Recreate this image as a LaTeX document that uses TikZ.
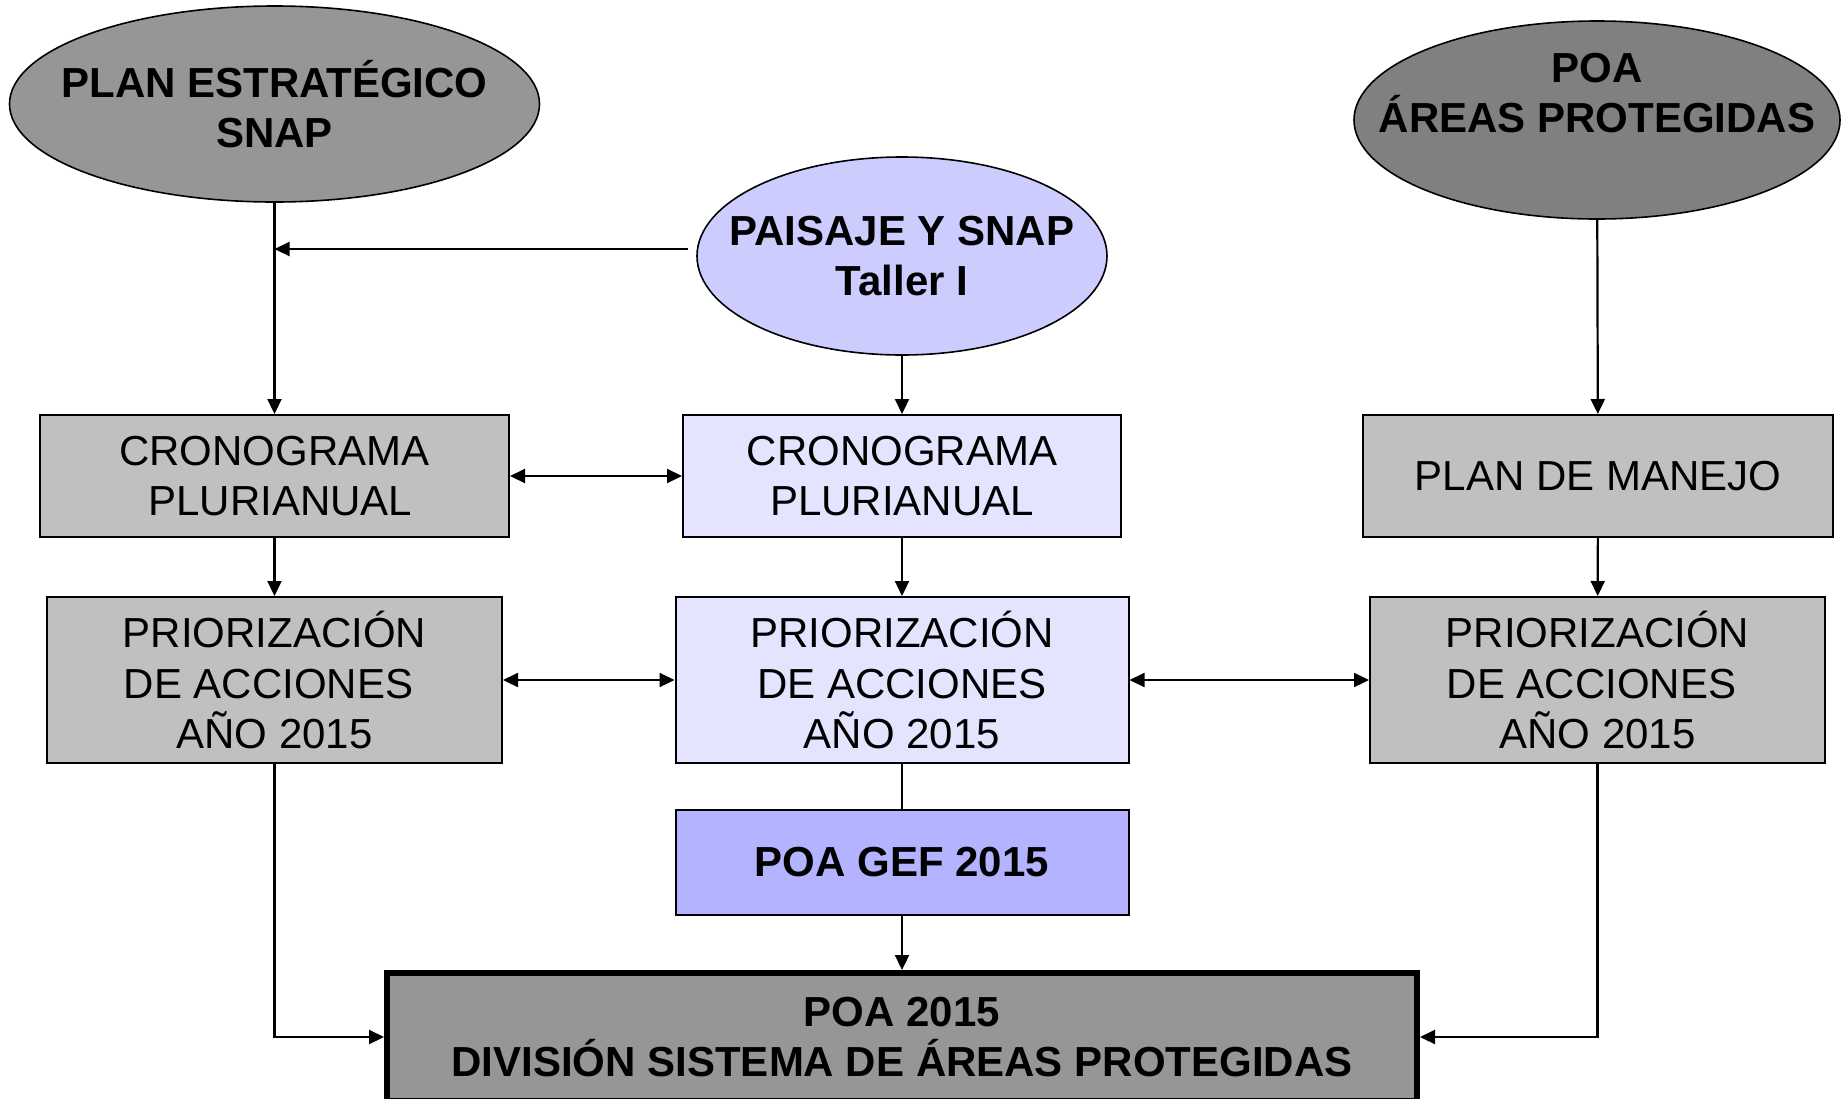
\documentclass[tikz,border=0pt]{standalone}
\usepackage{fontspec}
\setmainfont{Liberation Sans}
\usetikzlibrary{arrows.meta,shapes.geometric}
\definecolor{grisA}{HTML}{969696}
\definecolor{grisB}{HTML}{808080}
\definecolor{grisC}{HTML}{C0C0C0}
\definecolor{lilaA}{HTML}{CCCCFF}
\definecolor{lilaB}{HTML}{E4E4FF}
\definecolor{lilaC}{HTML}{B3B3FF}
\begin{document}
\begin{tikzpicture}[x=0.5pt, y=-0.5pt,
    texto/.style={align=center, inner sep=0pt, font=\fontsize{21}{25.3}\selectfont},
    negrita/.style={texto, font=\fontsize{21}{25.3}\selectfont\bfseries},
    elipse/.style={ellipse, draw, line width=0.8pt, inner sep=0pt},
    caja/.style={texto, rectangle, draw, line width=1pt},
    flecha/.style={-{Triangle[length=7.5pt,width=7pt]}, line width=1.1pt},
    doble/.style={{Triangle[length=7.5pt,width=7pt]}-{Triangle[length=7.5pt,width=7pt]}, line width=1.1pt}]
  \useasboundingbox (0,0) rectangle (1847,1098);
  % ovalos de arriba
  \node [elipse, fill=grisA, minimum width=265pt, minimum height=98pt] (plan) at (274.5,104) {};
  \node [negrita] (plantxt) at (plan) {PLAN ESTRATÉGICO\\SNAP};
  \node [elipse, fill=lilaA, minimum width=205pt, minimum height=99pt] (paisaje) at (902,256) {};
  \node [negrita] (paisajetxt) at (paisaje) {PAISAJE Y SNAP\\Taller I};
  \node [elipse, fill=grisB, minimum width=243pt, minimum height=99pt] (poaap) at (1597,120) {};
  \node [negrita] (poaaptxt) at (1597,93) {POA\\ÁREAS PROTEGIDAS};
  % primera fila
  \node [caja, fill=grisC, minimum width=234.5pt, minimum height=61pt] (crono1) at (274.5,476) {CRONOGRAMA\\~PLURIANUAL};
  \node [caja, fill=lilaB, minimum width=219pt, minimum height=61pt] (crono2) at (902,476) {CRONOGRAMA~\\PLURIANUAL};
  \node [caja, fill=grisC, minimum width=235pt, minimum height=61pt] (manejo) at (1598,476) {PLAN DE MANEJO};
  % segunda fila
  \node [caja, fill=grisC, minimum width=227.5pt, minimum height=83pt] (prior1) at (274.5,680) {PRIORIZACIÓN~\\DE ACCIONES~~\\AÑO 2015};
  \node [caja, fill=lilaB, minimum width=226.5pt, minimum height=83pt] (prior2) at (902,680) {PRIORIZACIÓN\\DE ACCIONES~\\AÑO 2015};
  \node [caja, fill=grisC, minimum width=227.5pt, minimum height=83pt] (prior3) at (1597.5,680) {PRIORIZACIÓN~\\DE ACCIONES~~\\AÑO 2015};
  \node [caja, negrita, draw, line width=1pt, fill=lilaC, minimum width=226.5pt, minimum height=52.5pt] (gef) at (902,862) {POA GEF 2015};
  \node [caja, negrita, draw, line width=3pt, fill=grisA, minimum width=515pt, minimum height=64pt] (poa) at (902,1037) {POA 2015~\\DIVISIÓN SISTEMA DE ÁREAS PROTEGIDAS};
  % conectores
  \coordinate (junta) at (274.5,249);
  \draw [flecha] (plan) -- (crono1);
  \draw [flecha] ([shift={(-8,-7)}]paisaje.west) -- (junta);
  \draw [flecha] (paisaje) -- (crono2);
  \draw [flecha] (poaap) -- (manejo);
  \draw [doble] (crono1) -- (crono2);
  \draw [flecha] (crono1) -- (prior1);
  \draw [flecha] (crono2) -- (prior2);
  \draw [flecha] (manejo) -- (prior3);
  \draw [doble] (prior1) -- (prior2);
  \draw [doble] (prior2) -- (prior3);
  \draw [line width=1.1pt] (prior2) -- (gef);
  \draw [flecha] (gef) -- (poa);
  \draw [flecha] (prior1.south) |- (poa.west);
  \draw [flecha] (prior3.south) |- (poa.east);
\end{tikzpicture}
\end{document}
